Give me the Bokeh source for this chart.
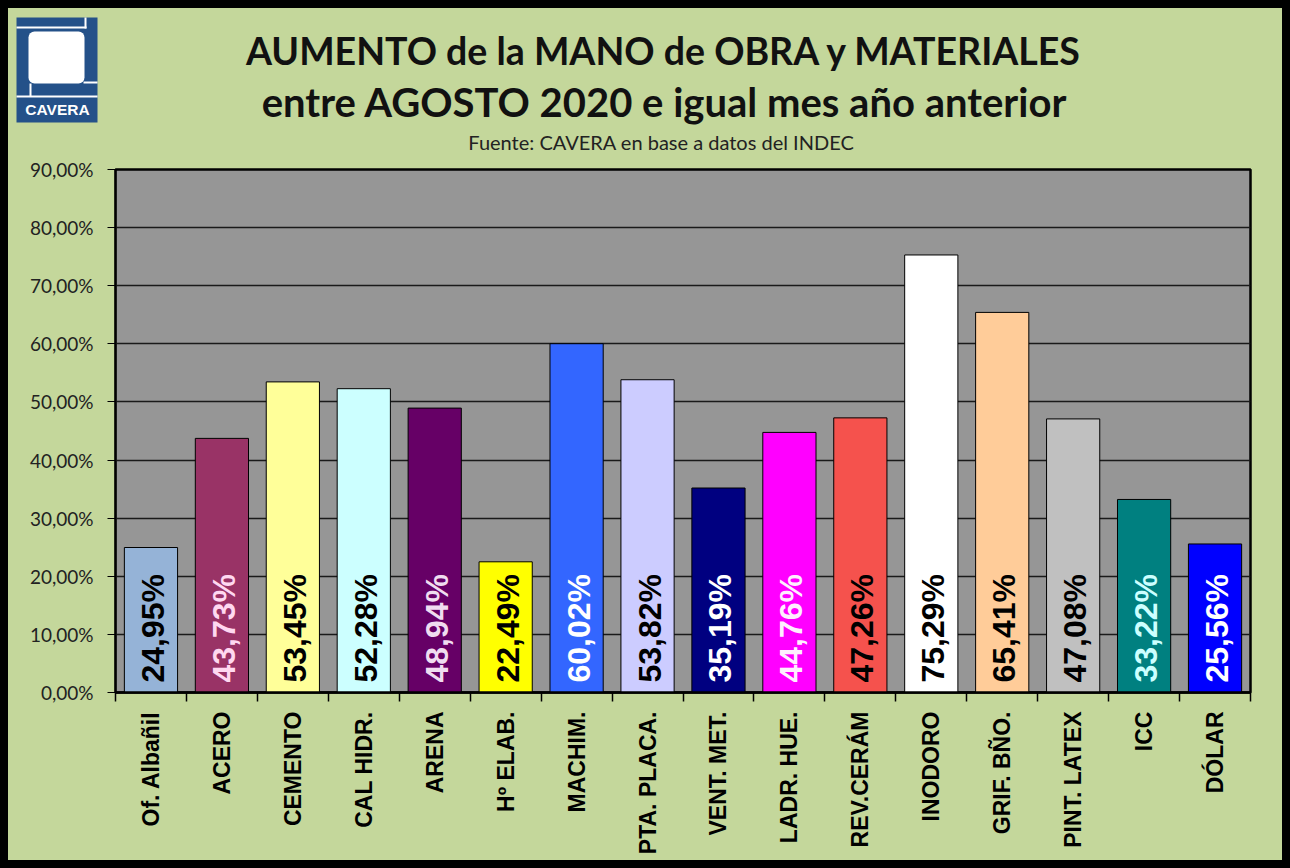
import math
from bokeh.plotting import figure
from bokeh.models import ColumnDataSource, Range1d, FixedTicker
from bokeh.layouts import column
from bokeh.core.properties import value
from bokeh.embed import file_html
from bokeh.resources import INLINE

# ---------------- data ----------------
categories = ["Of. Albañil", "ACERO", "CEMENTO", "CAL HIDR.", "ARENA", "Hº ELAB.",
              "MACHIM.", "PTA. PLACA.", "VENT. MET.", "LADR. HUE.", "REV.CERÁM",
              "INODORO", "GRIF. BÑO.", "PINT. LATEX", "ICC", "DÓLAR"]
values = [24.95, 43.73, 53.45, 52.28, 48.94, 22.49, 60.02, 53.82, 35.19, 44.76,
          47.26, 75.29, 65.41, 47.08, 33.22, 25.56]
y_ticks = [0, 10, 20, 30, 40, 50, 60, 70, 80, 90]
y_tick_labels = ["0,00%", "10,00%", "20,00%", "30,00%", "40,00%", "50,00%",
                 "60,00%", "70,00%", "80,00%", "90,00%"]
title_line1 = "AUMENTO de la MANO de OBRA y MATERIALES"
title_line2 = "entre AGOSTO 2020  e igual mes año anterior"
subtitle = "Fuente:  CAVERA  en base a datos del INDEC"
logo_text = "CAVERA"

# ---------------- styles ----------------
bar_colors = ["#95B3D7", "#993366", "#FFFF99", "#CCFFFF", "#660066", "#FFFF00",
              "#3366FF", "#CCCCFF", "#000080", "#FF00FF", "#F5524D", "#FFFFFF",
              "#FFCC99", "#C0C0C0", "#008080", "#0000FF"]
label_colors = ["#000000", "#FFD8F0", "#000000", "#000000", "#F0DCF0", "#000000",
                "#FFFFFF", "#000000", "#FFFFFF", "#FFF0FF", "#000000", "#000000",
                "#000000", "#000000", "#CCFFFF", "#FFFFFF"]
GREEN = "#C4D79B"
GRAY = "#969696"
LOGO_BLUE = "#245189"
TITLE_FONT = value("Lato")

# ---------------- header (logo + titles), page-pixel coordinates ----------------
hdr = figure(width=1274, height=147, output_backend="svg", toolbar_location=None,
             x_range=Range1d(8, 1282), y_range=Range1d(155, 8),
             x_axis_type=None, y_axis_type=None,
             min_border=0, min_border_left=0, min_border_right=0,
             min_border_top=0, min_border_bottom=0)
hdr.frame_align = False
hdr.grid.visible = False
hdr.outline_line_color = None
hdr.background_fill_color = GREEN
hdr.border_fill_color = GREEN

# logo
hdr.quad(left=[16], right=[97], top=[17], bottom=[122], fill_color=LOGO_BLUE, line_color=None)
hdr.quad(left=[16, 84, 29, 83, 16], right=[86, 86, 31, 97, 97],
         top=[26, 17, 83, 81, 95], bottom=[28, 28, 96, 83, 97],
         fill_color="white", line_color=None)
hdr.quad(left=[28], right=[84], top=[31], bottom=[83], fill_color="white", line_color=None,
         border_radius=6)
hdr.text(x=[57], y=[108.5], text=[logo_text], text_align="center", text_baseline="alphabetic",
         text_font=value("Liberation Sans"), text_font_style="bold",
         text_font_size="15.5px", text_color="white")

# titles
hdr.text(x=[664], y=[50], text=[title_line1], text_align="center", text_baseline="alphabetic",
         text_font=TITLE_FONT, text_font_style="bold", text_font_size="37.5px",
         text_color="#111111")
hdr.text(x=[669], y=[101], text=[title_line2], text_align="center", text_baseline="alphabetic",
         text_font=TITLE_FONT, text_font_style="bold", text_font_size="40px",
         text_color="#111111")
hdr.text(x=[666], y=[141], text=[subtitle], text_align="center", text_baseline="alphabetic",
         text_font=TITLE_FONT, text_font_size="20px", text_color="#222222")

# ---------------- main chart ----------------
xs = list(range(len(categories)))
labels = [("%.2f" % v).replace(".", ",") + "%" for v in values]
src = ColumnDataSource(dict(x=xs, top=values, color=bar_colors, lab=labels, lcol=label_colors))

p = figure(width=1274, height=705, output_backend="svg", toolbar_location=None,
           x_range=Range1d(-0.5, len(categories) - 0.5), y_range=Range1d(0, 90),
           min_border_left=107, min_border_right=32, min_border_top=14, min_border_bottom=168)
p.frame_align = False
p.border_fill_color = GREEN
p.background_fill_color = GRAY
p.outline_line_color = "black"
p.outline_line_width = 2.5

p.vbar(x="x", top="top", width=0.75, bottom=0, fill_color="color", line_color="black",
       line_width=1, source=src)
p.text(x="x", y=0, text="lab", angle=math.pi / 2, text_align="left", text_baseline="middle",
       y_offset=-10, x_offset=2, text_color="lcol", text_font=value("Liberation Sans"),
       text_font_style="bold", text_font_size="32px", source=src)

# y axis
p.yaxis.ticker = FixedTicker(ticks=y_ticks)
p.yaxis.major_label_overrides = {t: l for t, l in zip(y_ticks, y_tick_labels)}
p.yaxis.major_label_text_font = "Lato"
p.yaxis.major_label_text_font_size = "19px"
p.yaxis.major_label_text_color = "#222222"
p.yaxis.major_tick_out = 8
p.yaxis.major_tick_in = 0
p.yaxis.major_tick_line_color = "black"
p.yaxis.minor_tick_line_color = None
p.yaxis.axis_line_color = "black"
p.yaxis.axis_line_width = 1.5
p.yaxis.major_label_standoff = 14
p.ygrid.grid_line_color = "#1a1a1a"
p.ygrid.grid_line_width = 1.5
p.xgrid.grid_line_color = None

# x axis
p.xaxis.ticker = FixedTicker(ticks=xs, minor_ticks=[i - 0.5 for i in range(len(categories) + 1)])
p.xaxis.major_label_overrides = {i: c for i, c in enumerate(categories)}
p.xaxis.major_label_orientation = math.pi / 2
p.xaxis.major_label_text_font = "Liberation Sans"
p.xaxis.major_label_text_font_style = "bold"
p.xaxis.major_label_text_font_size = "23px"
p.xaxis.major_label_text_color = "black"
p.xaxis.major_tick_line_color = None
p.xaxis.major_tick_out = 0
p.xaxis.major_tick_in = 0
p.xaxis.minor_tick_line_color = "black"
p.xaxis.minor_tick_line_width = 1.5
p.xaxis.minor_tick_out = 9
p.xaxis.minor_tick_in = 0
p.xaxis.axis_line_color = "black"
p.xaxis.axis_line_width = 2.5
p.xaxis.major_label_standoff = 10

layout = column(hdr, p, spacing=0,
                styles={"background-color": GREEN, "padding": "8px",
                        "box-shadow": "inset 0 0 0 8px black"})

open("out.html", "w").write(file_html(layout, INLINE))
